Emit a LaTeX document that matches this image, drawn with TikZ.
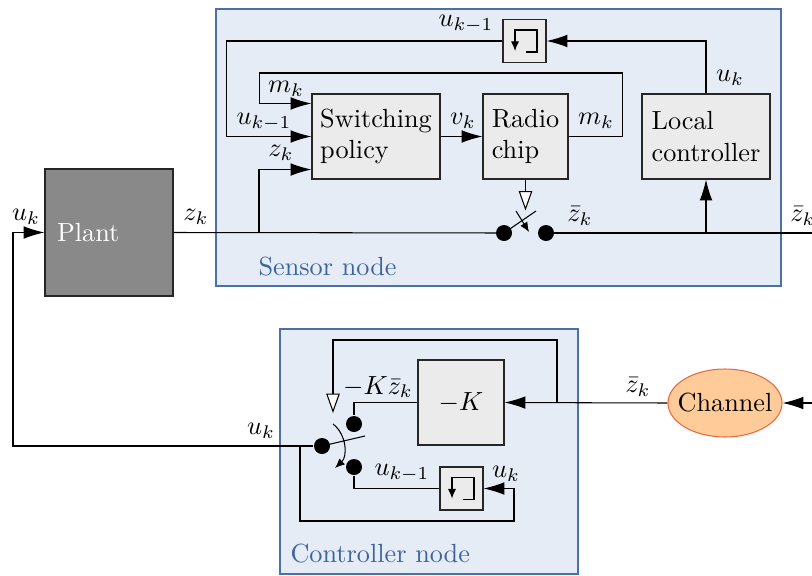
\documentclass[tikz,border=0pt]{standalone}
\usetikzlibrary{arrows.meta,calc,shapes.geometric}
\definecolor{nodebg}{RGB}{229,236,245}
\definecolor{nodeline}{RGB}{74,112,168}
\definecolor{nodetext}{RGB}{62,100,160}
\definecolor{blockbg}{RGB}{235,235,235}
\definecolor{plantbg}{RGB}{137,137,137}
\definecolor{chanbg}{RGB}{255,204,153}
\definecolor{chanline}{RGB}{232,104,64}
\def\px{0.0134cm}
\tikzset{
  group/.style={draw=nodeline,fill=nodebg},
  grouplabel/.style={anchor=west,text=nodetext,inner sep=0pt},
  block/.style={draw=black!85,fill=blockbg,minimum width={128*\px},minimum height={85*\px},align=left,inner sep=0pt},
  plant/.style={draw=black!85,fill=plantbg,text=white,minimum height={127*\px},text width={104*\px},inner xsep={12*\px},align=left},
  delay/.style={draw=black!85,fill=blockbg,minimum size={43*\px},inner sep=0pt},
  channel/.style={ellipse,draw=chanline,fill=chanbg,minimum width={114*\px},minimum height={68*\px},inner xsep={-12*\px},inner ysep=0pt},
  dot/.style={circle,fill=black,inner sep=0pt,minimum size={16*\px}},
  lbl/.style={inner sep=0pt},
  opentip/.style={-{Triangle[open,fill=white,length=2.6mm,width=1.8mm]}},
  smalltip/.style={-{Latex[length=1.3mm,width=1.1mm]}}
}
\newcommand{\delaymark}[1]{\draw[smalltip] ($(#1)+(1.5,11)$) -- ++(11,0) -- ++(0,-22) -- ++(-22,0) -- ++(0,21);}
\begin{document}
\begin{tikzpicture}[x=\px,y=-\px,>={Latex[length=2.8mm,width=1.7mm]}]
\useasboundingbox (0,0) rectangle (812,575);
% the two nodes
\draw[group] (216,9) rectangle (781,286);
\draw[group] (280,329) rectangle (578,574);
\node[grouplabel] (sensorlbl) at (258,267) {Sensor node};
\node[grouplabel] (ctrllbl) at (290,554) {Controller node};
% blocks
\node[plant] (plant) at (109,232.5) {Plant};
\node[block] (pol) at (376,136.5) {Switching\\policy};
\node[block,minimum width={85*\px}] (radio) at (525.5,136.5) {Radio\\chip};
\node[block] (lc) at (706,136.5) {Local\\controller};
\node[delay] (d1) at (524.5,41) {};
\node[block,minimum width={86*\px}] (gain) at (461,402.5) {$-K$};
\node[delay] (d2) at (461.5,488.5) {};
\node[channel] (ch) at (725,403) {Channel};
\delaymark{d1}
\delaymark{d2}
% sensor side
\coordinate (zsplit) at (259,233);
\coordinate (lcin) at (706,233);
\coordinate (zend) at (830,233);
\draw (plant.east) -- (504,233);
\draw (546,233) -- (zend);
\draw[->] (zsplit) |- ($(pol.south west)+(0,-10)$);
\draw[->] (lcin) -- (lc.south);
\draw[->] (lc.north) |- (d1.east);
\draw[->] (d1.west) -- ++(-276,0) |- (pol.west);
\draw[->] (radio.east) -- ++(54,0) -- ++(0,-63.5) -- ++(-363,0) |- ($(pol.north west)+(0,10)$);
\draw[->] (pol.east) -- (radio.west);
\draw[opentip] (radio.south) -- ++(0,31);
\node[dot] (sa) at (504,233) {};
\node[dot] (sb) at (546,233) {};
\draw (sa.center) -- ++(32,-22);
\draw[smalltip] ($(sa)+(12,-22)$) -- ($(sa)+(25,-1)$);
% controller side
\coordinate (ksplit) at (557,403);
\coordinate (usplit) at (300,446);
\coordinate (chin) at (840,403);
\node[dot] (ca) at (354,424) {};
\node[dot] (piv) at (322,446) {};
\node[dot] (cb) at (354,467) {};
\draw[->] (chin) -- (ch.east);
\draw[->] (ch.west) -- (gain.east);
\draw[opentip] (ksplit) -- ++(0,-63) -- ++(-224,0) -- ++(0,73);
\draw (gain.west) -| (ca);
\draw (cb) |- (d2.west);
\draw[->] (piv) -- ++(-309,0) |- (plant.west);
\draw[->] (usplit) -- ++(0,75) -- ++(214,0) |- (d2.east);
\draw (piv.center) -- ++(43,-10);
\draw[smalltip] ($(piv)+(11,-22)$) to[bend left=50] ($(piv)+(13,22)$);
% labels
\node[lbl] (uplant) at (26,217) {$u_k$};
\node[lbl] (zplant) at (196,217) {$z_k$};
\node[lbl] (zpol) at (281,153) {$z_k$};
\node[lbl] (upol) at (264,122) {$u_{k-1}$};
\node[lbl] (mpol) at (286,89) {$m_k$};
\node[lbl] (vk) at (463,121) {$v_k$};
\node[lbl] (mradio) at (596,121) {$m_k$};
\node[lbl] (udelay) at (466,24) {$u_{k-1}$};
\node[lbl] (ulc) at (730,78) {$u_k$};
\node[lbl] (zsw) at (580,216) {$\bar z_k$};
\node[lbl] (zout) at (803,216) {$\bar z_k$};
\node[lbl] (zch) at (638,387) {$\bar z_k$};
\node[lbl] (kz) at (378,387) {$-K\bar z_k$};
\node[lbl] (upiv) at (261,431) {$u_k$};
\node[lbl] (ud2) at (402,473) {$u_{k-1}$};
\node[lbl] (ud2in) at (506,474) {$u_k$};
\end{tikzpicture}
\end{document}
